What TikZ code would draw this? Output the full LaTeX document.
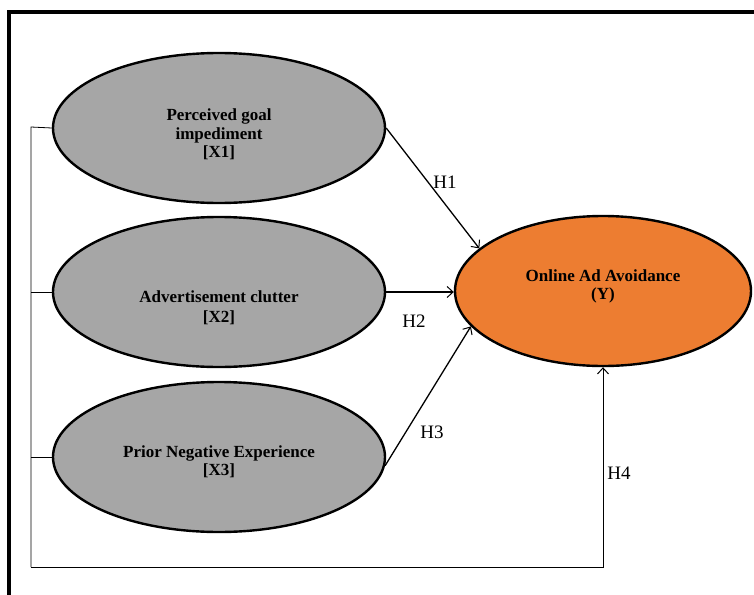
\documentclass[tikz,border=0pt]{standalone}
\usepackage{fontspec}
\setmainfont{Liberation Serif}
\usepackage{tikz}
\usetikzlibrary{shapes.geometric, positioning, arrows.meta}
\definecolor{latentgray}{HTML}{A6A6A6}
\definecolor{targetorange}{HTML}{ED7D31}
\tikzset{
>={Straight Barb[length=6pt, width=11pt, line width=1pt]}, % open arrow heads
construct/.style={ellipse, draw, line width=2.4pt, fill=latentgray, minimum width=332pt, minimum height=150pt, inner sep=0pt, align=center, font=\fontsize{17}{18.5}\selectfont\bfseries}, % sets the properties for each predictor
outcome/.style={construct, fill=targetorange, minimum width=296pt}, % the dependent construct
hyp/.style={font=\fontsize{19}{21}\selectfont, inner sep=0pt}, % hypothesis labels
}

\begin{document}
\begin{tikzpicture}[x=1pt, y=-1pt]
  \useasboundingbox (0,0) rectangle (754,594);
  % Frame
  \draw[line width=3.5pt] (9,12) rectangle (780,620);

  % Constructs
  \node[construct] (x1) at (219,128) {\rule{0pt}{25pt}Perceived goal\\impediment\\{}[X1]};
  \node[construct] (x2) at (219,292) {\rule{0pt}{43pt}Advertisement clutter\\[1.5pt]{}[X2]};
  \node[construct] (x3) at (219,457) {\rule{0pt}{21pt}Prior Negative Experience\\{}[X3]};
  \node[outcome] (y) at (603,291) {Online Ad Avoidance\\(Y)\rule[-13pt]{0pt}{13pt}};

  % Feedback line
  \coordinate (bustop) at (31,127);
  \coordinate (busbot) at (31,567);
  \draw[line width=0.8pt] (x1.west) -- (bustop) -- (busbot);
  \draw[line width=0.8pt] (x2.west) -- (x2.west -| bustop);
  \draw[line width=0.8pt] (x3.west) -- (x3.west -| bustop);
  \draw[->, line width=0.8pt] (busbot) -| (y.south);

  % Hypotheses
  \draw[->, line width=1.3pt] (x1.east) -- (y.161);
  \draw[->, line width=1.3pt] (x2.east) -- (x2.east -| y.west);
  \draw[->, line width=1.3pt] (x3.-3) -- (y.195);

  \node[hyp] (h1) at (445,182) {H1};
  \node[hyp] (h2) at (414,321) {H2};
  \node[hyp] (h3) at (432,432) {H3};
  \node[hyp] (h4) at (619,473) {H4};
\end{tikzpicture}
\end{document}
